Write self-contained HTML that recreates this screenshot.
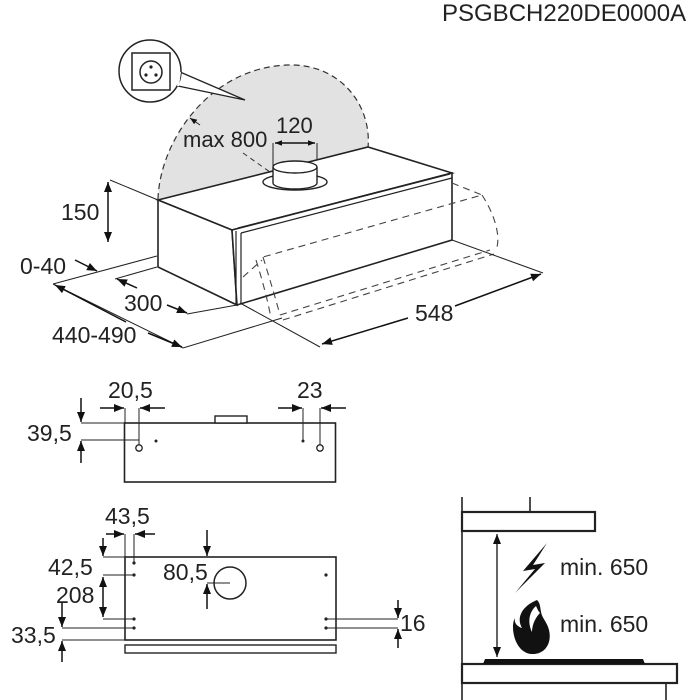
<!DOCTYPE html>
<html><head><meta charset="utf-8"><style>
html,body{margin:0;padding:0;background:#fff}
svg{display:block}
text{font-family:"Liberation Sans",Arial,sans-serif;fill:#222}
</style></head><body>
<svg width="700" height="700" viewBox="0 0 700 700" xmlns="http://www.w3.org/2000/svg">
<defs>
<marker id="a" viewBox="0 0 10 10" refX="10" refY="5" markerWidth="7" markerHeight="7" orient="auto-start-reverse" markerUnits="userSpaceOnUse"><path d="M0,1 L10,5 L0,9 Z" fill="#111"/></marker>
<marker id="b" viewBox="0 0 10 10" refX="10" refY="5" markerWidth="12" markerHeight="10" orient="auto-start-reverse" markerUnits="userSpaceOnUse"><path d="M0,1 L10,5 L0,9 Z" fill="#111"/></marker>
</defs>
<text x="442" y="21" font-size="24">PSGBCH220DE0000A</text>

<!-- dome -->
<path d="M158,199 C160,140 210,68 287,65 C340,63 372,105 368,148 L158,200 Z" fill="#e2e2e2"/>
<path d="M158,199 C160,140 210,68 287,65 C340,63 372,105 368,148" fill="none" stroke="#333" stroke-width="1.2" stroke-dasharray="6,4"/>
<!-- socket bubble -->
<path d="M180,72 L245,100 L178,86" fill="#fff" stroke="#222" stroke-width="1.3"/>
<circle cx="150" cy="71" r="31" fill="#fff" stroke="#222" stroke-width="1.5"/>
<path d="M180,72 L178,86" stroke="#fff" stroke-width="2"/>
<rect x="132" y="53" width="38" height="37" fill="none" stroke="#222" stroke-width="1.5"/>
<circle cx="151" cy="72" r="11" fill="none" stroke="#222" stroke-width="1.5"/>
<circle cx="151" cy="67" r="1.6" fill="#222"/><circle cx="146" cy="75" r="1.6" fill="#222"/><circle cx="156" cy="75" r="1.6" fill="#222"/>
<path d="M190,118 L200,125" stroke="#222" stroke-width="1" marker-start="url(#a)"/>
<path d="M243,153 L270,172" stroke="#333" stroke-width="1" stroke-dasharray="5,4"/>
<text x="183" y="147" font-size="22">max 800</text>
<text x="276" y="133" font-size="22">120</text>
<path d="M273,143 V168 M317,143 V168" stroke="#222" stroke-width="1"/>
<path d="M275,143 H315" stroke="#111" stroke-width="1.5" marker-start="url(#a)" marker-end="url(#a)"/>

<!-- box -->
<path d="M158,200 L368,147 L452,173 L232,230 Z" fill="#fff" stroke="#222" stroke-width="1.6"/>
<path d="M158,200 L232,230 L237,305 L158,267 Z" fill="#fff" stroke="#222" stroke-width="1.6"/>
<path d="M232,230 L452,173 L452,240 L237,305 Z" fill="#fff" stroke="#222" stroke-width="1.6"/>
<path d="M238,228 L450,174 M241,233 L452,178" stroke="#222" stroke-width="1.2"/>
<path d="M236,231 V305 M241,233 V304" stroke="#222" stroke-width="1.2"/>
<!-- pipe -->
<ellipse cx="295" cy="182" rx="32" ry="8" fill="#fff" stroke="#222" stroke-width="1.4"/>
<path d="M273,167 V183 A22,6 0 0 0 317,183 V167" fill="#fff" stroke="#222" stroke-width="1.4"/>
<ellipse cx="295" cy="167" rx="22" ry="6" fill="#fff" stroke="#222" stroke-width="1.4"/>
<!-- dashed drawer -->
<g fill="none" stroke="#444" stroke-width="1.1" stroke-dasharray="7,5">
<path d="M452,183 L482,195 L263,257"/>
<path d="M482,195 C495,215 500,235 497,247"/>
<path d="M263,257 C270,280 276,300 280,315 M256,260 C263,282 268,302 271,318"/>
<path d="M280,315 L490,250 M283,320 L494,254"/>
<path d="M243,277 L262,260"/>
</g>
<!-- dims top -->
<g stroke="#222" stroke-width="1" fill="none">
<path d="M110,180 L158,200"/>
<path d="M157,256 L53,284"/>
<path d="M157,267 L115,279"/>
<path d="M237,305 L187,314"/>
<path d="M53,284 L183,348 L282,318"/>
<path d="M240,303 L320,347"/>
<path d="M452,240 L543,273"/>
</g>
<path d="M108,182 V242" stroke="#111" stroke-width="1.5" marker-start="url(#b)" marker-end="url(#b)"/>
<text x="61" y="220" font-size="23">150</text>
<text x="20" y="274" font-size="23">0-40</text>
<path d="M75,260 L97,271" stroke="#111" stroke-width="1.5" marker-end="url(#b)"/>
<text x="124" y="311" font-size="23">300</text>
<path d="M137,288 L117,279" stroke="#111" stroke-width="1.5" marker-end="url(#b)"/>
<path d="M167,305 L187,313" stroke="#111" stroke-width="1.5" marker-end="url(#b)"/>
<text x="52" y="343" font-size="23">440-490</text>
<path d="M126,322 L55,285" stroke="#111" stroke-width="1.5" marker-end="url(#b)"/>
<path d="M148,333 L182,347" stroke="#111" stroke-width="1.5" marker-end="url(#b)"/>
<text x="415" y="321" font-size="23">548</text>
<path d="M408,318 L322,344" stroke="#111" stroke-width="1.5" marker-end="url(#b)"/>
<path d="M455,306 L541,274" stroke="#111" stroke-width="1.5" marker-end="url(#b)"/>

<!-- middle view -->
<rect x="124.5" y="423" width="211" height="59" fill="none" stroke="#222" stroke-width="1.6"/>
<rect x="215" y="416" width="32" height="7" fill="#fff" stroke="#222" stroke-width="1.4"/>
<g stroke="#222" stroke-width="1" fill="none">
<path d="M81,423 H125 M81,440 H139 M125,408 V423 M139,408 V445 M303,408 V440 M320,408 V445"/>
</g>
<circle cx="139" cy="448" r="3.2" fill="#fff" stroke="#222" stroke-width="1.3"/>
<circle cx="320" cy="448" r="3.2" fill="#fff" stroke="#222" stroke-width="1.3"/>
<circle cx="156" cy="441" r="1.5" fill="#222"/><circle cx="303" cy="441" r="1.5" fill="#222"/>
<g stroke="#111" stroke-width="1.5">
<path d="M81,398 V422" marker-end="url(#b)"/>
<path d="M81,463 V441" marker-end="url(#b)"/>
<path d="M100,408 H124" marker-end="url(#b)"/>
<path d="M165,408 H140" marker-end="url(#b)"/>
<path d="M278,408 H302" marker-end="url(#b)"/>
<path d="M346,408 H321" marker-end="url(#b)"/>
</g>
<text x="108" y="398" font-size="23">20,5</text>
<text x="297" y="398" font-size="23">23</text>
<text x="27" y="441" font-size="23">39,5</text>

<!-- bottom view -->
<rect x="125" y="557" width="211" height="83" fill="none" stroke="#222" stroke-width="1.6"/>
<rect x="125" y="645" width="211" height="8" fill="none" stroke="#222" stroke-width="1.4"/>
<circle cx="230" cy="583" r="16" fill="none" stroke="#222" stroke-width="1.5"/>
<g stroke="#222" stroke-width="1" fill="none">
<path d="M125,534 V557 M134,534 V562 M103,557 H125 M103,575 H134 M103,619 H134 M62,628 H134 M62,640 H125 M207,583 H230 M326,619 H398 M326,628 H398"/>
</g>
<g fill="#222"><circle cx="134" cy="563" r="1.6"/><circle cx="134" cy="575" r="1.6"/><circle cx="134" cy="619" r="1.6"/><circle cx="134" cy="628" r="1.6"/><circle cx="326" cy="575" r="1.6"/><circle cx="326" cy="619" r="1.6"/><circle cx="326" cy="628" r="1.6"/></g>
<g stroke="#111" stroke-width="1.5">
<path d="M106,534 H124" marker-end="url(#b)"/>
<path d="M155,534 H135" marker-end="url(#b)"/>
<path d="M103,538 V556" marker-end="url(#b)"/>
<path d="M103,577 V617" marker-start="url(#b)" marker-end="url(#b)"/>
<path d="M62,603 V627" marker-end="url(#b)"/>
<path d="M62,662 V641" marker-end="url(#b)"/>
<path d="M207,530 V556" marker-end="url(#b)"/>
<path d="M207,609 V584" marker-end="url(#b)"/>
<path d="M398,600 V618" marker-end="url(#b)"/>
<path d="M398,648 V629" marker-end="url(#b)"/>
</g>
<text x="105" y="524" font-size="23">43,5</text>
<text x="48" y="575" font-size="23">42,5</text>
<text x="163" y="580" font-size="23">80,5</text>
<text x="56" y="603" font-size="23">208</text>
<text x="11" y="643" font-size="23">33,5</text>
<text x="400" y="631" font-size="23">16</text>

<!-- right: clearance -->
<g stroke="#222" fill="none">
<path d="M462,497 V700" stroke-width="1.6"/>
<path d="M530,497 V512" stroke-width="1.6"/>
<rect x="462" y="512" width="133" height="19" stroke-width="2.2" fill="#fff"/>
<rect x="462" y="664" width="215" height="19" stroke-width="2.2" fill="#fff"/>
<path d="M666,683 V700" stroke-width="1.6"/>
</g>
<path d="M483,664 L485,659 L643,659 L645,664 Z" fill="#111"/>
<path d="M497,534 V657" stroke="#111" stroke-width="1.3" marker-start="url(#b)" marker-end="url(#b)"/>
<path d="M547,543 L523,571 L535,569 L515,593 L545,563 L533,565 Z" fill="#111"/>
<path d="M537,600 C522,606 516,618 522,628 C516,626 514,622 515,618 C510,626 514,652 531,654 C546,655 552,642 549,630 C547,622 542,618 541,612 C540,606 540,603 537,600 Z" fill="#111"/>
<path d="M536,606 C528,613 528,624 532,632 C532,624 536,617 540,613 C538,611 537,608 536,606 Z" fill="#fff"/>
<text x="560" y="575" font-size="23">min. 650</text>
<text x="560" y="632" font-size="23">min. 650</text>
</svg>
</body></html>
